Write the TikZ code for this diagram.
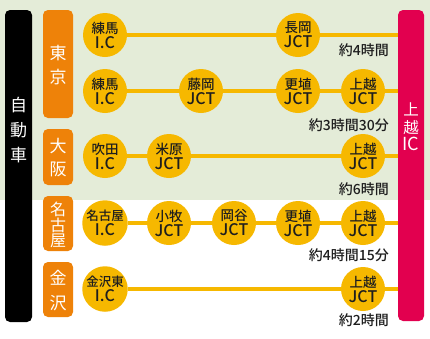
\documentclass[tikz,border=0pt]{standalone}
\usepackage{fontspec}
\setmainfont{Noto Sans CJK JP}[BoldFont={Noto Sans CJK JP Medium}]
\definecolor{ycol}{HTML}{F6B800}
\definecolor{ocol}{HTML}{EE8209}
\definecolor{pcol}{HTML}{E2004F}
\definecolor{gcol}{HTML}{E4ECD8}
\definecolor{tcol}{HTML}{1E1E1E}
\pgfdeclarelayer{bgl}
\pgfdeclarelayer{lines}
\pgfsetlayers{bgl,lines,main}
\newcommand{\lat}[1]{{\fontsize{16}{16}\selectfont #1}}
\begin{document}
\begin{tikzpicture}[x=1pt,y=-1pt,
  stn/.style={circle, fill=ycol, minimum size=44pt, inner sep=0pt, align=center, text=tcol,
    font=\fontsize{13.5}{15}\selectfont\bfseries},
  bar/.style={rounded corners=5pt, inner sep=0pt},
  vtext/.style={text=white, align=center},
  timelbl/.style={anchor=east, text=tcol, font=\fontsize{14}{14}\selectfont\bfseries, inner sep=0pt},
  route/.style={ycol, line width=4pt}]
\useasboundingbox (0,0) rectangle (430,338);
\begin{pgfonlayer}{bgl}
  \fill[gcol] (0,0) rectangle (430,200);
  \fill[white] (0,200) rectangle (430,338);
\end{pgfonlayer}

% side bars
\node[bar, fill=black, minimum width=27pt, minimum height=312pt] (car) at (18.5,166) {};
\node[vtext, font=\fontsize{17}{25}\selectfont] (cartxt) at (18.5,130) {自\\動\\車};
\node[bar, fill=pcol, minimum width=26pt, minimum height=311pt] (ic) at (411,165.5) {};
\node[vtext, font=\fontsize{15.5}{17.5}\selectfont] (ictxt) at (411,127) {上\\越\\{\fontsize{18}{17.5}\selectfont IC}};

% city boxes
\node[bar, fill=ocol, minimum width=30pt, minimum height=108pt] (tokyo) at (58,64) {};
\node[vtext, font=\fontsize{17}{24}\selectfont] at (58,65) {東\\京};
\node[bar, fill=ocol, minimum width=30pt, minimum height=56pt] (osaka) at (58,157) {};
\node[vtext, font=\fontsize{17}{23}\selectfont] at (58,158) {大\\阪};
\node[bar, fill=ocol, minimum width=30pt, minimum height=55pt] (nagoya) at (58,223.5) {};
\node[vtext, font=\fontsize{16}{15.5}\selectfont] at (58,225) {名\\古\\屋};
\node[bar, fill=ocol, minimum width=30pt, minimum height=55pt] (kanazawa) at (58,289.5) {};
\node[vtext, font=\fontsize{17}{25}\selectfont] at (58,290.5) {金\\沢};

% row 1
\node[stn] (a1) at (105,35) {練馬\\\lat{I.C}};
\node[stn] (a2) at (298,35) {長岡\\\lat{JCT}};
% row 2
\node[stn] (b1) at (105,91) {練馬\\\lat{I.C}};
\node[stn] (b2) at (201,91) {藤岡\\\lat{JCT}};
\node[stn] (b3) at (298,91) {更埴\\\lat{JCT}};
\node[stn] (b4) at (363,91) {上越\\\lat{JCT}};
% row 3
\node[stn] (c1) at (105,156) {吹田\\\lat{I.C}};
\node[stn] (c2) at (169,156) {米原\\\lat{JCT}};
\node[stn] (c3) at (363,156) {上越\\\lat{JCT}};
% row 4
\node[stn, font=\fontsize{12.5}{15}\selectfont\bfseries] (d1) at (105,223) {名古屋\\\lat{I.C}};
\node[stn] (d2) at (169,223) {小牧\\\lat{JCT}};
\node[stn] (d3) at (234,223) {岡谷\\\lat{JCT}};
\node[stn] (d4) at (298,223) {更埴\\\lat{JCT}};
\node[stn] (d5) at (363,223) {上越\\\lat{JCT}};
% row 5
\node[stn, font=\fontsize{12.5}{15}\selectfont\bfseries] (e1) at (105,289) {金沢東\\\lat{I.C}};
\node[stn] (e2) at (363,289) {上越\\\lat{JCT}};

\begin{pgfonlayer}{lines}
  \draw[route] (a1) -- (a2) -- (a2 -| ic.west);
  \draw[route] (b1) -- (b2) -- (b3) -- (b4) -- (b4 -| ic.west);
  \draw[route] (c1) -- (c2) -- (c3) -- (c3 -| ic.west);
  \draw[route] (d1) -- (d2) -- (d3) -- (d4) -- (d5) -- (d5 -| ic.west);
  \draw[route] (e1) -- (e2) -- (e2 -| ic.west);
\end{pgfonlayer}

% times
\node[timelbl] (t1) at (389,50) {約4時間};
\node[timelbl] (t2) at (389,125) {約3時間30分};
\node[timelbl] (t3) at (389,189) {約6時間};
\node[timelbl] (t4) at (389,255) {約4時間15分};
\node[timelbl] (t5) at (389,320) {約2時間};
\end{tikzpicture}
\end{document}
